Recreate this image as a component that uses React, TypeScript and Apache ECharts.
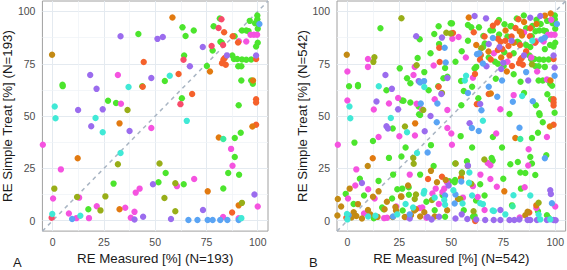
import React, { useEffect, useRef } from "react";
import * as echarts from "echarts";

// ---------- tick values ----------
const majorTicks = [0, 25, 50, 75, 100];
const minorTicks = [12.5, 37.5, 62.5, 87.5];

// ---------- panel A (N=193) ----------
const aGreen = [[41.8,89.2],[63.3,92.4],[64.8,88.3],[68.8,90.9],[81.5,96.6],[78.5,92.9],[81.8,85.5],[82.5,85.0],[78,81.3],[88.7,88.1],[92.3,90.9],[94.4,90.9],[95.5,90.6],[96.1,95.5],[99.8,98.1],[99.8,96.3],[100,94.4],[98.7,94.4],[100,91.7],[99.2,83.2],[100,85],[87.6,78.9],[88.4,77.3],[90,77.3],[92.3,77],[94.4,76.9],[96.8,77],[90.5,73.8],[92,73.8],[75.2,73.9],[54.7,66.8],[64.1,78.9],[92,67],[96.8,67],[97.6,65.4],[90.7,55.2],[63,58.5],[4.8,65],[4.9,64.3],[43.7,64.2],[27,57.3],[30.9,56.2],[88.8,39.5],[91.7,42],[88.8,30.4],[85.6,22.8],[90.9,21.9],[83.2,15.4],[51.6,18.4],[29.7,17.7],[63.9,17.4],[17.4,5.4],[55.1,22.8]];
const aMagenta = [[90.8,85.8],[94.4,85.6],[96.5,88.9],[98.1,88.9],[99.7,88.9],[31.8,69.6],[33.3,55.9],[48.1,44.3],[-4.8,36.3],[87,34.3],[87.7,26.2],[69,19.9],[4,24.5],[0.2,10.6],[60.6,16.5],[42.4,15.3],[40.5,13.4],[12.9,11],[21.5,6.9],[35.4,6.2],[7.9,3.4],[11.6,1.2],[17.7,1.2],[38.1,1.4],[39.9,4.2],[83.1,1.7],[90.7,1.1],[100,6.8]];
const aPinkRed = [[82.3,96.3],[80.9,92.1],[77.5,83.5],[83.1,84],[63.8,76.9],[62.3,55.7],[-0.5,1.4]];
const aRed = [[83.6,90.1],[87.8,88.1],[90.4,85.2],[99.2,77.3],[83.3,77],[83.9,77.8],[82.6,75.3],[84.4,74.5],[61.4,70.1],[99.2,58],[99.2,56.5],[68,60.5],[99.2,45.8],[44.4,75.8],[43.9,64.0],[87.5,3.9]];
const aOrange = [[58.4,97.1],[76.7,71.3],[97.7,67],[97.4,45],[32.6,46.5],[81,39.7],[12.2,29.8],[75.6,14],[32.6,5.4],[90.7,7.3]];
const aOlive = [[36.5,52.9],[31.8,27],[0.8,15.3],[52.1,27.3],[54.5,10.8],[59.8,17.9],[25.7,11.6],[11.9,11.3],[23.3,4.9],[59.8,4.5],[92.3,8.5]];
const aBrown = [[-0.3,79.3]];
const aPurple = [[33.1,88.1],[51.1,86.9],[53.7,87.8],[73.2,83],[85,79],[99.2,78.9],[66.9,73.8],[18.3,69.6],[48.1,68.2],[21.4,63],[12.4,52.9],[24.4,53.2],[18.8,45.1],[37.5,42.9],[48.9,17.4],[39.9,0.5],[44.1,1.9],[57.7,0.8],[73.3,5.1],[98.4,12.5]];
const aBlue = [[100.8,94],[9.5,0.8],[66.2,0.3],[70.6,0.3],[75.6,0.3],[78,0.3],[81.7,0.3],[85.2,0.3],[90.7,0.3]];
const aCyan = [[57.1,69.3],[37,63.9],[1,54.6],[1.4,48.9],[20.9,49.1],[65.4,47.7],[24.4,42.3],[33.1,32.3],[-0.2,3.2],[13.5,2.3],[92,1.2]];
const aTeal = [[83.2,39]];

// ---------- panel B (N=542) ----------
const bGreen = [[0.8,64.2],[5.1,64.8],[5.1,64.2],[15.9,92],[18.8,62.3],[26.3,57.4],[30.3,56.5],[30.3,65.7],[28.7,68.1],[25.2,72.8],[33.8,77.8],[41.8,89.2],[34.8,86.7],[34.3,54.6],[39.1,62.3],[43.9,92.9],[44.1,84.4],[49.7,94.4],[43.7,64.2],[46.2,68.1],[48.1,68.8],[34.5,50.9],[50.3,94.3],[58,93.5],[59.6,92.4],[65.4,88.3],[63.3,92.4],[68.8,90.9],[72.9,95.9],[75.6,93.9],[78.8,93],[84.9,98.1],[81.5,96.6],[78.5,92.9],[81.8,85.5],[82.5,85],[88.7,88.1],[90.5,90.5],[92.3,90.9],[94.4,90.9],[95.5,90.6],[96.1,95.5],[99.8,98.1],[99.8,96.3],[100,94.4],[98.7,94.4],[100,91.7],[99.2,83.2],[100,85],[97.5,84],[66.1,84.7],[65.3,83],[75.5,80.5],[64.1,78.9],[72.4,75],[75.2,73.9],[87.6,78.9],[88.4,77.3],[90,77.3],[92.3,77],[94.4,76.9],[96.8,77],[90.5,73.8],[92,73.8],[95,73.5],[61.2,72.7],[62,73.5],[54.7,66.8],[71.4,67.8],[83.3,66.4],[92,67],[94,67],[96.8,67],[97.6,65.4],[98.5,64.5],[96.2,60.4],[90.7,55.2],[63,58.5],[54.8,55.2],[92.3,51.3],[99.7,51.6],[27,57.3],[35,50.5],[21.8,44],[3.4,37.3],[12.3,38.1],[40.2,36.1],[28,35],[26,30.7],[41.5,26.1],[-0.8,12.8],[12.7,1.1],[16.7,6.3],[21.5,10.6],[26.6,4.8],[29.5,16],[45.8,12.2],[47,1.9],[49,18.8],[51.8,19.4],[51.9,27.3],[55.1,23],[57.5,28.4],[61.9,9.6],[61.2,2.2],[60.4,1.9],[69.4,29.9],[69.9,28.7],[74.4,35],[79.2,7.3],[78.4,27],[83.2,23],[83.5,15.3],[88,30.4],[88.8,27.3],[90.4,21.8],[91.7,4.5],[96,2.6],[96.8,1.4],[95.7,31.3],[54.5,40.4],[92.5,50.5],[88.8,39.5],[91.7,42],[85.6,22.8],[29.6,12.4],[26.4,15.3],[17.4,5.4],[63.9,17.4],[51.6,18.4],
  [70,91],[73,89],[77,88],[86,92],[89,93],[91,96],[93,94],[86,84],[88,83],[95,82],[80,80],[68,78],[71,76],[58,86],[55,81],[52,76],[47,73],[40,80],[37,71],[56,62],[60,64],[80,70],[85,61],[98,58],[94,47],[78,51],[20,30],[6,20],[15,19],[22,22],[35,22],[42,5],[8,12],[3,8],[24,15],[38,9],[56,5],[66,12],[75,20],[82,28],[70,40],[60,35]];
const bMagenta = [[0,71.3],[9.9,77.3],[9.9,73.5],[0,57.4],[24.4,58.6],[32.4,73.5],[31.8,69.6],[33.3,55.9],[35.9,53.1],[41.5,74.2],[48.1,52.9],[50.5,87],[53.5,87.8],[60.4,68.3],[73.6,53.3],[91.3,71.3],[96,67.5],[98.1,96],[90.8,85.8],[94.4,85.6],[96.5,88.9],[98.1,88.9],[99.7,88.9],[90.1,85],[88.5,78],[70.5,80],[12.7,53.1],[48.1,44.3],[25,40.3],[32.5,40.7],[-4.6,36.3],[4.3,24.5],[3.8,16.8],[0.3,10.6],[13.1,10.6],[19.1,1.4],[23.5,6.8],[28.2,1.7],[34.8,6],[36,6.3],[38,1.4],[40.9,13],[42.5,15.3],[45.7,13.7],[46.6,15.3],[47.9,18.4],[55.6,11],[60.4,16.5],[62.7,11.3],[67.5,27.6],[68.8,26.5],[68.8,19.9],[66,5.1],[71.9,16.2],[71.6,41.7],[50,41.7],[50.3,36.3],[82.9,1.5],[85.3,16],[87,26.4],[87.2,34.1],[90.9,6],[100,6.8],[8,3.4],[17.7,1.2],
  [85,90],[77,76],[57,78],[42,58],[15,40],[10,15],[30,22],[44,8],[64,22],[80,60],[96,40],[20,56]];
const bRed = [[50.8,89.7],[44.2,82.7],[44.4,75.8],[60.8,90.1],[70,93.2],[72.1,94.7],[82.3,96.3],[80.9,92.1],[83.6,90.1],[87.8,88.1],[90.4,85.2],[72.4,87],[73.7,85.5],[77.5,83.5],[83.1,84],[72.4,81.6],[74.5,82],[64.1,79.3],[63.8,76.9],[79.2,73.9],[83.3,77],[83.9,77.8],[82.6,75.3],[84.4,74.5],[99.2,77.3],[61.4,70.1],[68,60.5],[99.2,58],[99.2,56.5],[99.2,55],[62.3,55.7],[99.2,45.8],[38.8,19.9],[45.5,21],[61.5,-0.2],[87.5,3.9],[-0.5,1.4],[43.9,64],
  [76,86],[79,88],[86,81],[69,77],[66,88],[78,79],[88,92]];
const bOrange = [[58.4,97.1],[97.8,99],[95,98],[76.1,90.9],[82.9,90.4],[84,88.5],[67.9,80.9],[76.7,71.3],[97.7,67],[69,60.8],[97.4,45],[32.6,46.5],[80.8,39.5],[12.2,29.8],[75.5,14],[33,5.4],[90.9,7.3],[54.7,20.5],
  [80,85],[74,78],[91,94],[62,84],[85,95]];
const bBrown = [[-0.3,79.3],[9.8,26.1],[-4.6,10.3],[-3,6.8],[5.1,7.9],[4.3,2.2],[9.9,5.1],[12.3,11.4],[17.9,5.4],[23.1,6.5],[23.4,4.9],[26,11.4],[27.6,1.7],[30.6,2.6],[32.2,4.8],[29.2,16.8],[40.2,23.8],[43.1,18.4],[47.3,19.4],[53.2,10.3],[85.6,2.6],[86.7,4.2],[1.1,15.3],[-4.8,2.5],[2,1.5],[14.5,1.8],[21.8,1.7],[35,2],[25.8,11.6],
  [7,1],[11,3],[19,9],[37,4],[42,2],[48,5],[15,14],[3,4]];
const bOlive = [[26,96.8],[13,78.1],[12.5,75.9],[47.6,89.8],[64.4,82.4],[88.8,74.7],[33.3,74.3],[36.5,52.9],[27.7,45],[31.7,29.9],[31.9,27.2],[40.7,9.9],[32.4,10.3],[33,12.5],[54.3,10.3],[57.9,26.1],[59.6,17.6],[60.7,4.5],[65.9,29.2],[92,8.6],[52.1,27.3],[55.1,22.8],[49.7,89.5],[45.5,61]];
const bPurple = [[33.1,88.1],[45.5,87.5],[61.2,97.8],[66.7,96.7],[92.8,97.8],[68,84.4],[73.2,83],[85,79],[99.2,78.9],[66.9,73.8],[75,75.5],[74,72.5],[99.7,73.2],[18.3,69.6],[48.1,68.2],[21.4,63],[34.3,66.7],[45.2,60.5],[63.9,55.8],[24.4,53.2],[18.8,45.1],[37.2,42.7],[19.5,44],[58.8,46.6],[48.7,16.8],[58,26.3],[38.6,1.7],[40.5,0.5],[44.1,1.9],[57.7,0.8],[66.3,0.3],[70.4,0.3],[73.6,0.3],[78,0.3],[80.3,0.3],[82.7,0.5],[86.7,0.3],[88,0.3],[91.2,0.3],[96,0.3],[99.2,0.3],[100.2,0.2],[73.6,5.1],[97.6,14.5],[97.9,12.7],[62,0.5],[52,1],
  [7,18],[30,1],[55,3],[87,67],[79,86],[88,97],[40,50],[14,57]];
const bBlue = [[46.8,82.7],[47.3,75.6],[35,66],[36.9,66.7],[35.3,56],[43.3,56],[70,87.3],[93.3,86.6],[95,87.5],[62.4,79.6],[63.5,80],[65.2,75.1],[74.4,67],[72.1,59.2],[79.6,56.8],[89.2,57.1],[64.5,52.8],[99.7,69.3],[100.8,94],[59.9,44.3],[63.2,42.9],[82.8,44.4],[38.6,32.6],[95,29.8],[54.8,18.7],[51.6,8.2],[98.4,8.3],[0.6,2.6],[47,12],[52,12.5],
  [30,3],[22,2],[68,64],[86,71],[58,61],[43,47]];
const bCyan = [[15.1,64.2],[37,63.9],[57.1,69.3],[84.1,59.6],[1,54.6],[1.4,48.9],[20.9,49.1],[65.2,47.8],[28.7,42.3],[33.5,32.3],[37,14.2],[36.7,13],[31.6,6.3],[46.6,9.9],[47,7.6],[51,14.5],[55.4,8.2],[58.7,23],[58.5,18.1],[63.9,8.3],[65.2,7.9],[69.9,4.8],[79.9,12.1],[92,2.9],[92.8,0.6],[97.6,0.6],[0,0.6],[13.5,2.3],[-0.2,3.2],[70.5,4.6],[89,86],[56.5,67],
  [28,8],[42,11],[10,2],[76,3],[60,12],[88,12],[24,3]];
const bTeal = [[83.2,39],[79.5,6.9]];

const COL = {
  green: "#4CE52D",
  magenta: "#F553E0",
  pinkRed: "#F84B6B",
  red: "#F5612B",
  orange: "#E27A10",
  olive: "#98AE18",
  brown: "#C38A14",
  purple: "#9B6CEE",
  blue: "#5AA4F4",
  cyan: "#40E9D6",
  teal: "#3AEC9E",
};

const FONT = "'Liberation Sans', Arial, Helvetica, sans-serif";

function pointSeries(idx: number, groups: [number[][], string][]) {
  return groups.map(([d, c]) => ({
    type: "scatter",
    xAxisIndex: idx,
    yAxisIndex: idx,
    data: d,
    symbol: "circle",
    symbolSize: 6.4,
    itemStyle: { color: c, opacity: 1 },
    z: 5,
    silent: true,
  }));
}

function guideSeries(idx: number) {
  const grid: any[] = [];
  majorTicks.forEach((v) => {
    grid.push({ xAxis: v, lineStyle: { color: "#E4EAF0", width: 1, type: "solid" } });
    grid.push({ yAxis: v, lineStyle: { color: "#E4EAF0", width: 1, type: "solid" } });
  });
  minorTicks.forEach((v) => {
    grid.push({ xAxis: v, lineStyle: { color: "#EEF2F6", width: 0.7, type: "solid" } });
    grid.push({ yAxis: v, lineStyle: { color: "#EEF2F6", width: 0.7, type: "solid" } });
  });
  return [
    {
      type: "scatter",
      xAxisIndex: idx,
      yAxisIndex: idx,
      data: [[50, 50]],
      symbolSize: 0,
      silent: true,
      z: 1,
      markLine: {
        silent: true,
        symbol: ["none", "none"],
        label: { show: false },
        animation: false,
        data: grid,
      },
    },
    {
      type: "scatter",
      xAxisIndex: idx,
      yAxisIndex: idx,
      data: [[50, 50]],
      symbolSize: 0,
      silent: true,
      z: 2,
      markLine: {
        silent: true,
        symbol: ["none", "none"],
        label: { show: false },
        animation: false,
        lineStyle: { color: "#A9B5C3", width: 1.5, type: [4, 4] },
        data: [[{ coord: [-5, -5] }, { coord: [105, 105] }]],
      },
    },
  ];
}

function xAxisFor(idx: number, name: string) {
  return {
    type: "value",
    gridIndex: idx,
    min: -5,
    max: 105,
    name,
    nameLocation: "middle",
    nameGap: 17,
    nameTextStyle: { fontFamily: FONT, fontSize: 13.3, color: "#1a1a1a" },
    axisLine: { show: false },
    axisTick: { show: true, length: 3, lineStyle: { color: "#444" }, customValues: majorTicks },
    axisLabel: { fontFamily: FONT, fontSize: 10.5, color: "#4D4D4D", margin: 5, customValues: majorTicks },
    splitLine: { show: false },
  };
}

function yAxisFor(idx: number, name: string) {
  return {
    type: "value",
    gridIndex: idx,
    min: -5,
    max: 105,
    name,
    nameLocation: "middle",
    nameGap: 22,
    nameTextStyle: { fontFamily: FONT, fontSize: 13.3, color: "#1a1a1a" },
    axisLine: { show: false },
    axisTick: { show: true, length: 3, lineStyle: { color: "#444" }, customValues: majorTicks },
    axisLabel: { fontFamily: FONT, fontSize: 10.5, color: "#4D4D4D", margin: 7, customValues: majorTicks },
    splitLine: { show: false },
  };
}

export default function App() {
  const ref = useRef<HTMLDivElement>(null);
  useEffect(() => {
    if (!ref.current) return;
    const chart = echarts.init(ref.current, undefined, { renderer: "svg" });
    const gridStyle = { show: true, borderColor: "#A0A0A0", borderWidth: 1, backgroundColor: "#FFFFFF" };
    chart.setOption({
      animation: false,
      backgroundColor: "#FFFFFF",
      grid: [
        { left: 39, top: 1, width: 229, height: 237, ...gridStyle },
        { left: 337, top: 1, width: 229, height: 237, ...gridStyle },
      ],
      xAxis: [xAxisFor(0, "RE Measured [%] (N=193)"), xAxisFor(1, "RE Measured [%] (N=542)")],
      yAxis: [yAxisFor(0, "RE Simple Treat [%] (N=193)"), yAxisFor(1, "RE Simple Treat [%] (N=542)")],
      graphic: [
        { type: "text", left: 13, top: 256, style: { text: "A", font: `13px ${FONT}`, fill: "#1a1a1a" } },
        { type: "text", left: 309, top: 256, style: { text: "B", font: `13px ${FONT}`, fill: "#1a1a1a" } },
      ],
      series: [
        ...guideSeries(0),
        ...guideSeries(1),
        ...pointSeries(0, [
          [aGreen, COL.green], [aMagenta, COL.magenta], [aPinkRed, COL.pinkRed], [aRed, COL.red],
          [aOrange, COL.orange], [aOlive, COL.olive], [aBrown, COL.brown], [aPurple, COL.purple],
          [aBlue, COL.blue], [aCyan, COL.cyan], [aTeal, COL.teal],
        ]),
        ...pointSeries(1, [
          [bGreen, COL.green], [bMagenta, COL.magenta], [bRed, COL.red], [bOrange, COL.orange],
          [bBrown, COL.brown], [bOlive, COL.olive], [bPurple, COL.purple], [bBlue, COL.blue],
          [bCyan, COL.cyan], [bTeal, COL.teal],
        ]),
      ],
    });
    return () => chart.dispose();
  }, []);
  return (
    <div
      ref={ref}
      style={{ position: "absolute", left: 0, top: 0, width: 567, height: 270, background: "#fff" }}
    />
  );
}
